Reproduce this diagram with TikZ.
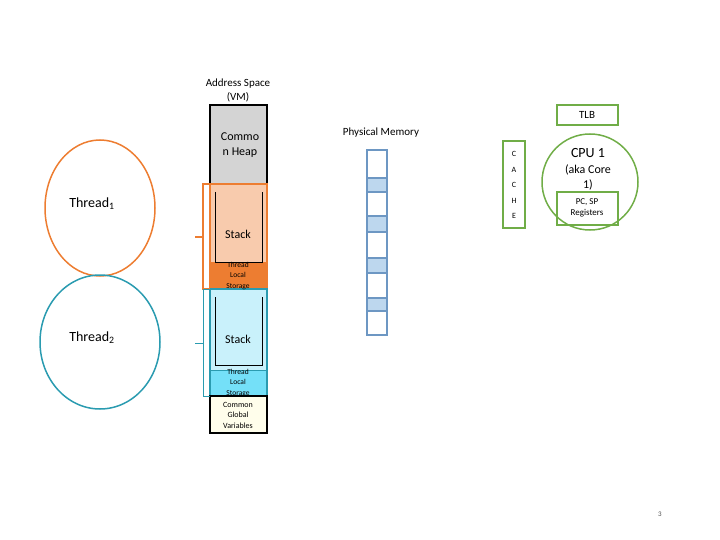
\documentclass[tikz,border=0pt]{standalone}
\usepackage{fontspec}
\setmainfont{Carlito}
\begin{document}
\begin{tikzpicture}[x=1pt,y=-1pt,
  lbl/.style={inner sep=0pt,align=center,text=black},
  cell/.style={draw=memb,line width=1.3pt}]
\definecolor{orng}{HTML}{ED7D31}
\definecolor{lorng}{HTML}{F8CBAD}
\definecolor{tealc}{HTML}{2A9BB0}
\definecolor{lblue}{HTML}{C9F1FB}
\definecolor{mblue}{HTML}{74E0F8}
\definecolor{memb}{HTML}{6D97C3}
\definecolor{memf}{HTML}{BDD7EE}
\definecolor{gr}{HTML}{70AD47}
\useasboundingbox (0,0) rectangle (720,540);
% address space
\node[lbl,font=\fontsize{11}{14}\selectfont] (as) at (238,90) {Address Space\\(VM)};
\fill[lorng] (210,184) rectangle (267,262);
\fill[orng] (210,262) rectangle (267,289);
\fill[lblue] (210,289) rectangle (267,370);
\fill[mblue] (210,370) rectangle (267,396);
\draw[black,line width=1.2pt,fill=black!17] (210,105) rectangle (267,184);
\node[lbl,font=\fontsize{12}{15}\selectfont] (heap) at (240,145) {Commo\\n Heap};
\draw[black,line width=1pt] (215,192) -- (215,262) -- (262,262) -- (262,192);
\draw[orng,line width=1.2pt] (210,184) rectangle (267,289);
\draw[black,line width=1pt] (215,297) -- (215,365) -- (262,365) -- (262,297);
\draw[tealc,line width=1.2pt] (210,289) rectangle (267,396);
\draw[tealc,line width=1pt] (210,370) -- (267,370);
\node[lbl,font=\fontsize{12}{15}\selectfont] (s1) at (238,234) {Stack};
\node[lbl,font=\fontsize{12}{15}\selectfont] (s2) at (238,339) {Stack};
\node[lbl,font=\fontsize{7.5}{10.5}\selectfont] (t1) at (238,276) {Thread\\Local\\Storage};
\node[lbl,font=\fontsize{7.5}{10.5}\selectfont] (t2) at (238,383) {Thread\\Local\\Storage};
\draw[black,line width=1.2pt,fill=yellow!8] (210,396) rectangle (267,433);
\node[lbl,font=\fontsize{8}{10.5}\selectfont] (gv) at (238,415) {Common\\Global\\Variables};
% brackets
\draw[orng,line width=1.3pt] (210,184) -- (203,184) -- (203,289) -- (210,289);
\draw[orng,line width=1.3pt] (203,237) -- (195,237);
\draw[tealc,line width=1pt] (210,289) -- (203,289) -- (203,396) -- (210,396);
\draw[tealc,line width=1pt] (203,343) -- (195,343);
% threads
\draw[orng,line width=1.5pt] (100,208) ellipse [x radius=55,y radius=68];
\node[lbl,font=\fontsize{14}{16}\selectfont] (th1) at (92,204) {Thread\textsubscript{1}};
\draw[tealc,line width=1.5pt] (100,342) ellipse [x radius=60,y radius=67];
\node[lbl,font=\fontsize{14}{16}\selectfont] (th2) at (92,338) {Thread\textsubscript{2}};
% physical memory
\node[lbl,font=\fontsize{11}{14}\selectfont] (pm) at (381,133) {Physical Memory};
\draw[cell] (367,150) rectangle (387,178);
\draw[cell,fill=memf] (367,178) rectangle (387,192);
\draw[cell] (367,192) rectangle (387,216);
\draw[cell,fill=memf] (367,216) rectangle (387,232);
\draw[cell] (367,232) rectangle (387,258);
\draw[cell,fill=memf] (367,258) rectangle (387,273);
\draw[cell] (367,273) rectangle (387,298);
\draw[cell,fill=memf] (367,298) rectangle (387,311);
\draw[cell] (367,311) rectangle (387,335);
% CPU side
\draw[gr,line width=1.5pt] (503,141) rectangle (525,228);
\node[lbl,font=\fontsize{8}{15.5}\selectfont] (cache) at (514,185) {C\\A\\C\\H\\E};
\draw[gr,line width=1.5pt] (557,105) rectangle (618,125);
\node[lbl,font=\fontsize{11}{14}\selectfont] (tlb) at (587,115) {TLB};
\draw[gr,line width=1.5pt] (590,182) circle (48);
\node[lbl,font=\fontsize{14}{16}\selectfont] (cpu) at (588,153) {CPU 1};
\node[lbl,font=\fontsize{12}{15}\selectfont] (aka) at (588,177) {(aka Core\\1)};
\draw[gr,line width=1.5pt] (557,192) rectangle (618,225);
\node[lbl,font=\fontsize{9}{11.5}\selectfont] (reg) at (587,208) {PC, SP\\Registers};
\node[lbl,font=\fontsize{7}{8}\selectfont,text=black!70] (pg) at (660,514) {3};
\end{tikzpicture}
\end{document}
